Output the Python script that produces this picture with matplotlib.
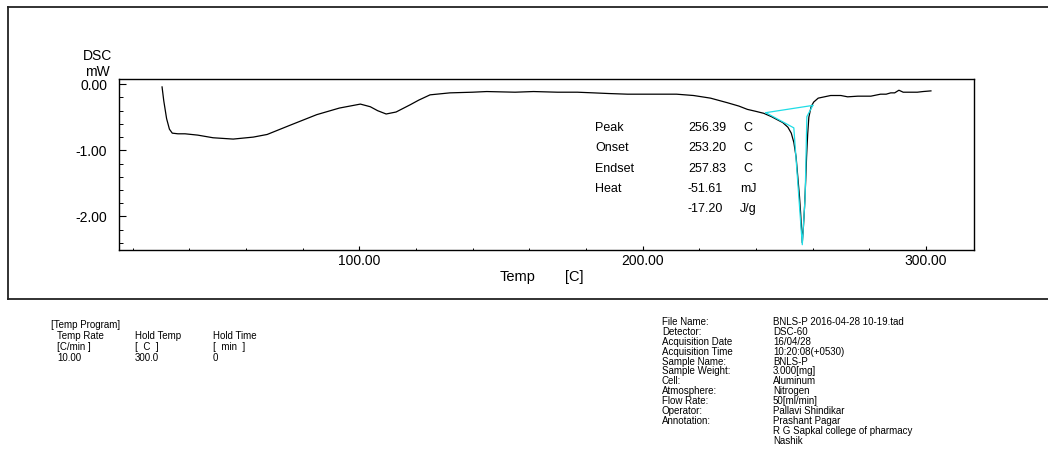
import matplotlib
matplotlib.use("Agg")
import matplotlib.pyplot as plt
from matplotlib.lines import Line2D
from matplotlib.ticker import MultipleLocator, FixedLocator

plt.rcParams['font.family'] = ['Liberation Sans', 'DejaVu Sans']

# DSC trace (temperature in C, heat flow in mW)
temp = [30.4, 31.0, 32.0, 33.0, 34.0, 36.0, 38.5, 43, 48.4, 55.5, 62.6, 67.5,
        75.6, 85, 93, 100.4, 103.9, 106.5, 109.5, 113, 118, 121, 125, 132,
        140, 145, 155, 161.5, 170, 177, 182.7, 188, 194.7, 203, 212, 218, 224,
        230, 234, 237, 240, 242.8, 245.5, 247.7, 249.5, 251.3, 252.5, 253.4,
        254.2, 254.8, 255.4, 255.8, 256.39, 256.8, 257.2, 257.6, 257.9, 258.3,
        258.7, 259.5, 260.4, 262, 266.4, 270, 272.4, 276, 280.6, 284, 286,
        287.6, 289, 290.5, 292, 294, 297, 299, 301.8]
dsc = [-0.04, -0.25, -0.52, -0.68, -0.74, -0.75, -0.75, -0.77, -0.81, -0.83,
       -0.80, -0.76, -0.62, -0.46, -0.36, -0.30, -0.34, -0.40, -0.45, -0.42,
       -0.31, -0.24, -0.16, -0.13, -0.12, -0.11, -0.12, -0.11, -0.12, -0.12,
       -0.13, -0.14, -0.15, -0.15, -0.15, -0.17, -0.21, -0.28, -0.33, -0.38,
       -0.41, -0.44, -0.49, -0.54, -0.58, -0.65, -0.74, -0.88, -1.10, -1.40,
       -1.70, -1.95, -2.40, -2.15, -1.85, -1.45, -1.10, -0.75, -0.50, -0.34,
       -0.27, -0.21, -0.17, -0.17, -0.19, -0.18, -0.18, -0.15, -0.15, -0.13,
       -0.13, -0.09, -0.12, -0.12, -0.12, -0.11, -0.10]

# Peak analysis construction lines
base_t = [243.5, 260.1]
base_v = [-0.43, -0.32]
tang_t = [243.5, 253.4, 256.39, 257.4, 258.0, 260.1]
tang_v = [-0.43, -0.66, -2.43, -1.70, -0.49, -0.32]

# Peak analysis results
result_names = ["Peak", "Onset", "Endset", "Heat", ""]
result_values = ["256.39", "253.20", "257.83", "-51.61", "-17.20"]
result_units = ["C", "C", "C", "mJ", "J/g"]

x_major = [100, 200, 300]
x_labels = ["100.00", "200.00", "300.00"]
y_major = [0.0, -1.0, -2.0]
y_labels = ["0.00", "-1.00", "-2.00"]

program_header = ["Temp Rate", "Hold Temp", "Hold Time"]
program_units = ["[C/min ]", "[  C  ]", "[  min  ]"]
program_values = ["10.00", "300.0", "0"]

info_keys = ["File Name:", "Detector:", "Acquisition Date", "Acquisition Time",
             "Sample Name:", "Sample Weight:", "Cell:", "Atmosphere:",
             "Flow Rate:", "Operator:", "Annotation:", "", ""]
info_vals = ["BNLS-P 2016-04-28 10-19.tad", "DSC-60", "16/04/28",
             "10:20:08(+0530)", "BNLS-P", "3.000[mg]", "Aluminum", "Nitrogen",
             "50[ml/min]", "Pallavi Shindikar", "Prashant Pagar",
             "R G Sapkal college of pharmacy", "Nashik"]

W, H = 1048, 459
fig = plt.figure(figsize=(W / 100, H / 100), dpi=100)


def fx(px):
    return px / W


def fy(py):
    return 1 - py / H


# outer frame around the graph area
frame_kw = dict(color="#222222", lw=1.3, transform=fig.transFigure)
fig.add_artist(Line2D([fx(8), 1.01], [fy(7), fy(7)], **frame_kw))
fig.add_artist(Line2D([fx(8), 1.01], [fy(299), fy(299)], **frame_kw))
fig.add_artist(Line2D([fx(8), fx(8)], [fy(7), fy(299)], **frame_kw))

ax = fig.add_axes([fx(119), fy(250), fx(974) - fx(119), fy(79) - fy(250)])
ax.plot(temp, dsc, color="black", lw=0.9, zorder=3)
ax.plot(base_t, base_v, color="#1fdde6", lw=0.9, zorder=4)
ax.plot(tang_t, tang_v, color="#1fdde6", lw=0.9, zorder=4)

ax.set_xlim(15.2, 317)
ax.set_ylim(-2.51, 0.08)
ax.xaxis.set_major_locator(FixedLocator(x_major))
ax.set_xticklabels(x_labels)
ax.xaxis.set_minor_locator(MultipleLocator(20))
ax.yaxis.set_major_locator(FixedLocator(y_major))
ax.set_yticklabels(y_labels)
ax.yaxis.set_minor_locator(MultipleLocator(0.2))
ax.tick_params(axis="x", which="major", direction="in", length=3.2, width=0.8,
               labelsize=10, pad=3)
ax.tick_params(axis="x", which="minor", direction="in", length=1.8, width=0.7)
ax.tick_params(axis="y", which="major", direction="in", length=5, width=0.8,
               labelsize=10, pad=8.5)
ax.tick_params(axis="y", which="minor", direction="in", length=3, width=0.7)
ax.tick_params(top=False, right=False, which="both")
for s in ax.spines.values():
    s.set_linewidth(1.0)

# axis titles
fig.text(fx(97), fy(56), "DSC", ha="center", va="center", fontsize=10)
fig.text(fx(97), fy(72), "mW", ha="center", va="center", fontsize=10)
fig.text(fx(500), fy(277), "Temp", ha="left", va="center", fontsize=10.5)
fig.text(fx(565), fy(277), "[C]", ha="left", va="center", fontsize=10.5)

# result table inside the plot
for i, (n, v, u) in enumerate(zip(result_names, result_values, result_units)):
    y = fy(128 + 20.3 * i)
    fig.text(fx(595), y, n, ha="left", va="center", fontsize=9)
    fig.text(fx(688), y, v, ha="left", va="center", fontsize=9)
    fig.text(fx(743 if u == "C" else 740), y, u, ha="left", va="center",
             fontsize=9)

# temperature program block
small = 7
fig.text(fx(51), fy(325), "[Temp Program]", ha="left", va="center",
         fontsize=small)
cols = [57, 135, 213]
for j, x in enumerate(cols):
    fig.text(fx(x), fy(336), program_header[j], ha="left", va="center",
             fontsize=small)
    fig.text(fx(x), fy(347), program_units[j], ha="left", va="center",
             fontsize=small)
    fig.text(fx(x), fy(358), program_values[j], ha="left", va="center",
             fontsize=small)

# acquisition info block
for i, (k, v) in enumerate(zip(info_keys, info_vals)):
    y = fy(322 + 9.9 * i)
    if k:
        fig.text(fx(662), y, k, ha="left", va="center", fontsize=small)
    fig.text(fx(773), y, v, ha="left", va="center", fontsize=small)

fig.savefig("out.png", dpi=100, facecolor="white")
